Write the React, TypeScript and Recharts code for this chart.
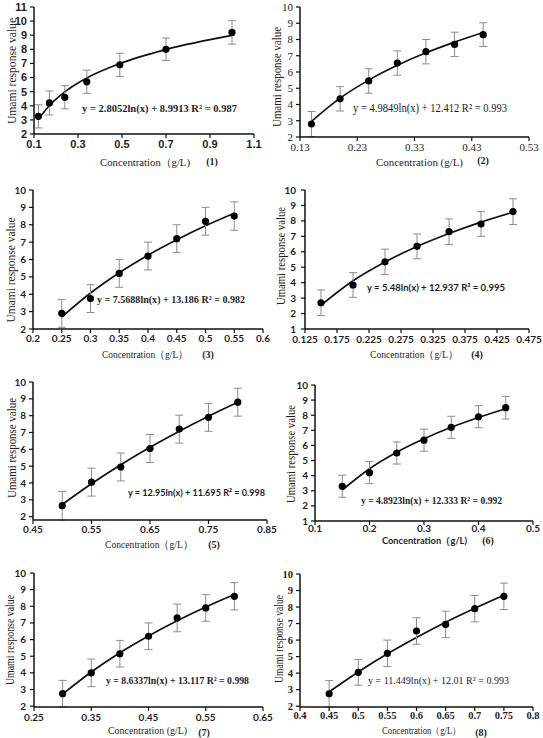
import React from "react";
import { ComposedChart, Line, Scatter, ErrorBar, XAxis, YAxis } from "recharts";

// (1)
const conc1 = [0.12, 0.17, 0.24, 0.34, 0.49, 0.7, 1.0];
const umami1 = [3.25, 4.2, 4.6, 5.7, 6.9, 8.0, 9.2];
const err1 = [0.82, 0.85, 0.82, 0.82, 0.82, 0.8, 0.83];
const trend1 = [3.04, 4.02, 4.99, 5.97, 6.99, 7.99, 8.99];
const xTicks1 = [0.1, 0.3, 0.5, 0.7, 0.9, 1.1];
const yTicks1 = [2, 3, 4, 5, 6, 7, 8, 9, 10, 11];

// (2)
const conc2 = [0.15, 0.2, 0.25, 0.3, 0.35, 0.4, 0.45];
const umami2 = [2.8, 4.35, 5.45, 6.55, 7.25, 7.7, 8.3];
const err2 = [0.77, 0.75, 0.75, 0.75, 0.75, 0.75, 0.73];
const trend2 = [2.96, 4.39, 5.5, 6.41, 7.18, 7.84, 8.43];
const xTicks2 = [0.13, 0.23, 0.33, 0.43, 0.53];
const yTicks2 = [2, 3, 4, 5, 6, 7, 8, 9, 10];

// (3)
const conc3 = [0.25, 0.3, 0.35, 0.4, 0.45, 0.5, 0.55];
const umami3 = [2.9, 3.75, 5.2, 6.2, 7.2, 8.2, 8.5];
const err3 = [0.8, 0.8, 0.8, 0.8, 0.8, 0.8, 0.82];
const trend3 = [2.69, 4.07, 5.24, 6.25, 7.14, 7.94, 8.66];
const xTicks3 = [0.2, 0.25, 0.3, 0.35, 0.4, 0.45, 0.5, 0.55, 0.6];
const yTicks3 = [2, 3, 4, 5, 6, 7, 8, 9, 10];

// (4)
const conc4 = [0.15, 0.2, 0.25, 0.3, 0.35, 0.4, 0.45];
const umami4 = [2.7, 3.85, 5.35, 6.35, 7.3, 7.8, 8.6];
const err4 = [0.83, 0.8, 0.82, 0.8, 0.83, 0.8, 0.83];
const trend4 = [2.54, 4.12, 5.34, 6.34, 7.18, 7.92, 8.56];
const xTicks4 = [0.125, 0.175, 0.225, 0.275, 0.325, 0.375, 0.425, 0.475];
const yTicks4 = [1, 2, 3, 4, 5, 6, 7, 8, 9, 10];

// (5)
const conc5 = [0.5, 0.55, 0.6, 0.65, 0.7, 0.75, 0.8];
const umami5 = [2.65, 4.05, 4.95, 6.05, 7.2, 7.9, 8.8];
const err5 = [0.85, 0.83, 0.83, 0.83, 0.83, 0.83, 0.83];
const trend5 = [2.72, 3.95, 5.08, 6.12, 7.08, 7.97, 8.8];
const xTicks5 = [0.45, 0.55, 0.65, 0.75, 0.85];
const yTicks5 = [2, 3, 4, 5, 6, 7, 8, 9, 10];

// (6)
const conc6 = [0.15, 0.2, 0.25, 0.3, 0.35, 0.4, 0.45];
const umami6 = [3.3, 4.2, 5.5, 6.35, 7.2, 7.9, 8.5];
const err6 = [0.73, 0.73, 0.73, 0.73, 0.73, 0.73, 0.75];
const trend6 = [3.05, 4.46, 5.55, 6.44, 7.2, 7.85, 8.43];
const xTicks6 = [0.1, 0.2, 0.3, 0.4, 0.5];
const yTicks6 = [1, 2, 3, 4, 5, 6, 7, 8, 9, 10];

// (7)
const conc7 = [0.3, 0.35, 0.4, 0.45, 0.5, 0.55, 0.6];
const umami7 = [2.75, 4.0, 5.15, 6.2, 7.3, 7.9, 8.6];
const err7 = [0.8, 0.83, 0.8, 0.8, 0.83, 0.8, 0.82];
const trend7 = [2.72, 4.05, 5.21, 6.22, 7.13, 7.96, 8.71];
const xTicks7 = [0.25, 0.35, 0.45, 0.55, 0.65];
const yTicks7 = [2, 3, 4, 5, 6, 7, 8, 9, 10];

// (8)
const conc8 = [0.45, 0.5, 0.55, 0.6, 0.65, 0.7, 0.75];
const umami8 = [2.75, 4.05, 5.2, 6.55, 6.95, 7.9, 8.65];
const err8 = [0.8, 0.78, 0.8, 0.8, 0.8, 0.8, 0.8];
const trend8 = [2.87, 4.07, 5.17, 6.16, 7.08, 7.93, 8.72];
const xTicks8 = [0.4, 0.45, 0.5, 0.55, 0.6, 0.65, 0.7, 0.75, 0.8];
const yTicks8 = [2, 3, 4, 5, 6, 7, 8, 9, 10];

const equations = [
  "y = 2.8052ln(x) + 8.9913 R² = 0.987",
  "y = 4.9849ln(x) + 12.412 R² = 0.993",
  "y = 7.5688ln(x) + 13.186  R² = 0.982",
  "y = 5.48ln(x) + 12.937   R² = 0.995",
  "y = 12.95ln(x) + 11.695 R² = 0.998",
  "y = 4.8923ln(x) + 12.333 R² = 0.992",
  "y = 8.6337ln(x) + 13.117 R² = 0.998",
  "y = 11.449ln(x) + 12.01 R² = 0.993",
];

const SERIF = "'Liberation Serif', 'DejaVu Serif', serif";
const SANS = "Lato, 'Liberation Sans', sans-serif";
const ARIAL = "'Liberation Sans', Arial, sans-serif";
const INK = "#1e1e1e";

const Dot = (props: any) => (
  <circle cx={props.cx} cy={props.cy} r={3.6} fill="#000" />
);

interface PanelProps {
  conc: number[];
  umami: number[];
  err: number[];
  trend: number[];
  xTicks: number[];
  yTicks: number[];
  x0: number;
  x1: number;
  yTop: number;
  yBot: number;
  font: string;
  weight: number;
  size: number;
  xGap?: number;
  yGap?: number;
}

const Panel = (p: PanelProps) => {
  const rows = p.conc.map((x, i) => ({
    x,
    y: p.umami[i],
    err: p.err[i],
    fit: p.trend[i],
  }));
  const yw = 40;
  const mt = 6;
  const mr = 16;
  const xh = 24;
  const w = yw + (p.x1 - p.x0) + mr;
  const h = mt + (p.yBot - p.yTop) + xh;
  const tick = { fontSize: p.size, fontFamily: p.font, fontWeight: p.weight, fill: INK };
  const axis = { stroke: "#111", strokeWidth: 1.5 };
  return (
    <div style={{ position: "absolute", left: p.x0 - yw, top: p.yTop - mt }}>
      <ComposedChart width={w} height={h} data={rows} margin={{ top: mt, right: mr, bottom: 0, left: 0 }}>
        <XAxis
          dataKey="x"
          type="number"
          domain={[p.xTicks[0], p.xTicks[p.xTicks.length - 1]]}
          ticks={p.xTicks}
          interval={0}
          height={xh}
          tick={tick}
          tickSize={4}
          tickMargin={p.xGap ?? 2}
          axisLine={axis}
          tickLine={{ stroke: "#111", strokeWidth: 1.2 }}
        />
        <YAxis
          type="number"
          domain={[p.yTicks[0], p.yTicks[p.yTicks.length - 1]]}
          ticks={p.yTicks}
          interval={0}
          width={yw}
          tick={tick}
          tickSize={4}
          tickMargin={p.yGap ?? 3}
          axisLine={axis}
          tickLine={{ stroke: "#111", strokeWidth: 1.2 }}
        />
        <Line
          dataKey="fit"
          type="monotone"
          stroke="#111"
          strokeWidth={1.7}
          dot={false}
          activeDot={false}
          isAnimationActive={false}
        />
        <Scatter dataKey="y" shape={Dot} isAnimationActive={false}>
          <ErrorBar
            dataKey="err"
            direction="y"
            width={4}
            stroke="#8c8c8c"
            strokeWidth={1}
            isAnimationActive={false}
          />
        </Scatter>
      </ComposedChart>
    </div>
  );
};

const App = () => {
  // y-axis titles: x, centre y, length
  const yTitles = [
    [12, 71, 106],
    [277, 77, 100],
    [11, 270, 105],
    [281, 256, 98],
    [12, 448, 100],
    [291, 454, 98],
    [10, 640, 90],
    [279, 639, 88],
  ];
  // x-axis titles: start x, y, length, text, font, weight, size
  const xTitles: [number, number, number, string, string, number, number][] = [
    [100, 162, 90, "Concentration（g/L)", SERIF, 400, 11],
    [376, 162, 87, "Concentration  (g/L)", SERIF, 400, 11],
    [102, 354, 86, "Concentration（g/L）", SERIF, 400, 10.5],
    [370, 354, 88, "Concentration（g/L）", SERIF, 400, 10.5],
    [105, 544, 88, "Concentration（g/L）", SERIF, 400, 10.5],
    [382, 540, 85, "Concentration（g/L)", SANS, 700, 10],
    [108, 730, 79, "Concentration (g/L)", SERIF, 400, 10],
    [382, 730, 79, "Concentration（g/L）", SERIF, 400, 10],
  ];
  const tags = [
    [212, 161],
    [483, 160],
    [208, 354],
    [477, 354],
    [214, 544],
    [488, 540],
    [204, 732],
    [481, 732],
  ];
  // equations: start x, y, length, font, weight, size
  const eqPos: [number, number, number, string, number, number][] = [
    [82, 108, 155, SERIF, 700, 11],
    [353, 108, 154, SERIF, 400, 11.5],
    [97, 299, 148, SERIF, 700, 10.5],
    [367, 287, 138, SANS, 700, 10],
    [128, 492, 137, SANS, 700, 10],
    [361, 500, 141, SERIF, 700, 10.5],
    [106, 680, 143, SERIF, 700, 10.5],
    [368, 680, 141, SERIF, 400, 11],
  ];

  return (
    <div
      style={{
        position: "absolute",
        left: 0,
        top: 0,
        width: 543,
        height: 738,
        background: "#fff",
        overflow: "hidden",
      }}
    >
      <Panel conc={conc1} umami={umami1} err={err1} trend={trend1} xTicks={xTicks1} yTicks={yTicks1}
        x0={34} x1={254} yTop={7} yBot={134} font={ARIAL} weight={700} size={11} />
      <Panel conc={conc2} umami={umami2} err={err2} trend={trend2} xTicks={xTicks2} yTicks={yTicks2}
        x0={300} x1={529} yTop={7} yBot={137} font={SERIF} weight={400} size={11} />
      <Panel conc={conc3} umami={umami3} err={err3} trend={trend3} xTicks={xTicks3} yTicks={yTicks3}
        x0={33} x1={263} yTop={190} yBot={329} font={SANS} weight={700} size={10} />
      <Panel conc={conc4} umami={umami4} err={err4} trend={trend4} xTicks={xTicks4} yTicks={yTicks4}
        x0={305} x1={529} yTop={190} yBot={329} font={SANS} weight={700} size={10} xGap={3} yGap={5} />
      <Panel conc={conc5} umami={umami5} err={err5} trend={trend5} xTicks={xTicks5} yTicks={yTicks5}
        x0={33} x1={267} yTop={382} yBot={520} font={SANS} weight={700} size={10} />
      <Panel conc={conc6} umami={umami6} err={err6} trend={trend6} xTicks={xTicks6} yTicks={yTicks6}
        x0={315} x1={533} yTop={385} yBot={521} font={SANS} weight={700} size={10} xGap={0} />
      <Panel conc={conc7} umami={umami7} err={err7} trend={trend7} xTicks={xTicks7} yTicks={yTicks7}
        x0={34} x1={263} yTop={573} yBot={707} font={SANS} weight={700} size={10} xGap={3} yGap={4} />
      <Panel conc={conc8} umami={umami8} err={err8} trend={trend8} xTicks={xTicks8} yTicks={yTicks8}
        x0={300} x1={533} yTop={574} yBot={707} font={SERIF} weight={700} size={10.5} xGap={1} />

      <svg
        width={543}
        height={738}
        style={{ position: "absolute", left: 0, top: 0, pointerEvents: "none" }}
      >
        {yTitles.map(([x, y, len], i) => (
          <text
            key={`yt-${i}`}
            x={0}
            y={0}
            transform={`translate(${x},${y}) rotate(-90)`}
            textAnchor="middle"
            dominantBaseline="central"
            fontFamily={SERIF}
            fontSize={11.5}
            fill={INK}
            textLength={len}
            lengthAdjust="spacingAndGlyphs"
          >
            Umami response value
          </text>
        ))}
        {xTitles.map(([x, y, len, label, font, weight, size], i) => (
          <text
            key={`xt-${i}`}
            x={x}
            y={y}
            dominantBaseline="central"
            fontFamily={font}
            fontWeight={weight}
            fontSize={size}
            fill={INK}
            textLength={len}
            lengthAdjust="spacingAndGlyphs"
          >
            {label}
          </text>
        ))}
        {tags.map(([x, y], i) => (
          <text
            key={`tag-${i}`}
            x={x}
            y={y}
            textAnchor="middle"
            dominantBaseline="central"
            fontFamily={SERIF}
            fontWeight={700}
            fontSize={10}
            fill={INK}
          >
            {`(${i + 1})`}
          </text>
        ))}
        {eqPos.map(([x, y, len, font, weight, size], i) => (
          <text
            key={`eq-${i}`}
            x={x}
            y={y}
            dominantBaseline="central"
            fontFamily={font}
            fontWeight={weight}
            fontSize={size}
            fill={INK}
            textLength={len}
            lengthAdjust="spacingAndGlyphs"
          >
            {equations[i]}
          </text>
        ))}
      </svg>
    </div>
  );
};

export default App;
